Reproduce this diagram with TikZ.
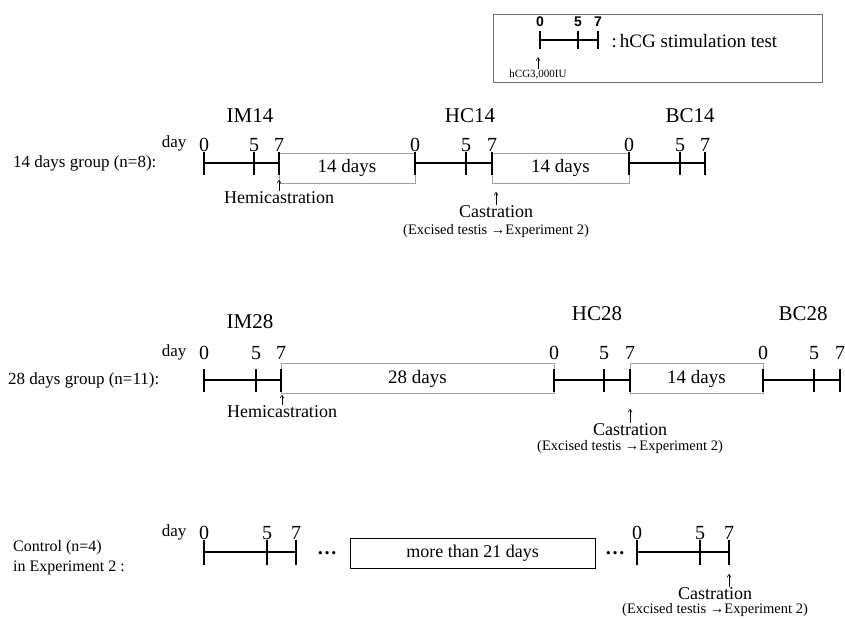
\documentclass[tikz,border=0pt]{standalone}
\usepackage{fontspec}
\setmainfont{Liberation Serif}
\newfontfamily\legendsans{Liberation Sans}
\usetikzlibrary{positioning,arrows.meta}
\definecolor{boxgray}{HTML}{a0a0a0}
\definecolor{framegray}{HTML}{707070}

\tikzset{
  axis/.style={line width=2pt},
  tick/.style={line width=2pt},
  periodbox/.style={draw=boxgray, line width=0.9pt, minimum height=30pt, inner sep=0pt, font=\fontsize{19}{22}\selectfont},
  daynum/.style={font=\fontsize{20}{22}\selectfont, inner sep=1pt},
  stagelabel/.style={font=\fontsize{21}{24}\selectfont},
  grouplabel/.style={font=\fontsize{17}{20}\selectfont, align=left, anchor=west, inner sep=0pt},
  eventlabel/.style={font=\fontsize{18}{20}\selectfont, inner sep=1pt},
  notelabel/.style={font=\fontsize{14.5}{16}\selectfont, inner sep=1pt},
  dotslabel/.style={font=\bfseries\fontsize{20}{20}\selectfont, inner sep=0pt},
  eventarrow/.style={-{Straight Barb[length=3pt,width=4pt]}, line width=0.6pt},
}

\begin{document}
\begin{tikzpicture}[x=1pt, y=-1pt]
  \useasboundingbox (0,0) rectangle (845,618);

  % Legend
  \draw[framegray, line width=0.9pt] (493,14) rectangle (822,82);
  \coordinate (lg0) at (540,40);
  \coordinate (lg7) at (598,40);
  \draw[line width=1.2pt] (lg0) -- (lg7);
  \foreach \x/\n in {540/0,578/5,598/7} {
    \draw[line width=1.4pt] (\x,31) -- (\x,49);
    \node[font=\legendsans\bfseries\fontsize{14}{16}\selectfont, inner sep=0pt] (lgn\n) at (\x,22) {\n};
  }
  \node[notelabel, font=\fontsize{11}{13}\selectfont] (hcg) at (538,75) {hCG3,000IU};
  \draw[eventarrow] (hcg.north) -- ++(0,-12);
  \node[font=\fontsize{19}{22}\selectfont, anchor=west] (legtext) at (608,41) {:\,hCG stimulation test};

  % 14 days group
  \node[stagelabel] (im14) at (250,116) {IM14};
  \node[stagelabel] (hc14) at (470,116) {HC14};
  \node[stagelabel] (bc14) at (690,116) {BC14};
  \node[grouplabel] (grp14) at (13,163) {14 days group (n=8):};
  \node[font=\fontsize{17}{20}\selectfont, anchor=east] (day14) at (190,143) {day};
  \node[periodbox, minimum width=136pt] (p14a) at (347,168) {14 days};
  \node[periodbox, minimum width=137pt] (p14b) at (560.5,168) {14 days};
  \draw[axis] (204,163) -- (p14a.west |- 0,163);
  \draw[axis] (p14a.east |- 0,163) -- (p14b.west |- 0,163);
  \draw[axis] (p14b.east |- 0,163) -- (705,163);
  \foreach \x/\n in {204/0,254/5,279/7,415/0,466/5,492/7,629/0,680/5,705/7} {
    \draw[tick] (\x,152) -- (\x,175);
    \node[daynum] (d14-\x) at (\x,145) {\n};
  }
  \node[eventlabel] (hemi14) at (279,198) {Hemicastration};
  \draw[eventarrow] (hemi14.north) -- ++(0,-11);
  \node[eventlabel] (castr14) at (496,212) {Castration};
  \draw[eventarrow] (castr14.north) -- ++(0,-13);
  \node[notelabel, below=4pt of castr14] (exc14) {(Excised testis →Experiment 2)};

  % 28 days group
  \node[stagelabel] (im28) at (250,322) {IM28};
  \node[stagelabel] (hc28) at (597,314) {HC28};
  \node[stagelabel] (bc28) at (803,314) {BC28};
  \node[grouplabel] (grp28) at (8,380) {28 days group (n=11):};
  \node[font=\fontsize{17}{20}\selectfont, anchor=east] (day28) at (190,352) {day};
  \node[periodbox, minimum width=273pt] (p28a) at (417.5,378.5) {28 days};
  \node[periodbox, minimum width=133pt] (p28b) at (696.5,378.5) {14 days};
  \draw[axis] (204,380) -- (p28a.west |- 0,380);
  \draw[axis] (p28a.east |- 0,380) -- (p28b.west |- 0,380);
  \draw[axis] (p28b.east |- 0,380) -- (840,380);
  \foreach \x/\n in {204/0,256/5,281/7,554/0,604/5,630/7,763/0,814/5,840/7} {
    \draw[tick] (\x,369) -- (\x,392);
    \node[daynum] (d28-\x) at (\x,353) {\n};
  }
  \node[eventlabel] (hemi28) at (282,412) {Hemicastration};
  \draw[eventarrow] (hemi28.north) -- ++(0,-10);
  \node[eventlabel] (castr28) at (630,430) {Castration};
  \draw[eventarrow] (castr28.north) -- ++(0,-14);
  \node[notelabel, below=2pt of castr28] (exc28) {(Excised testis →Experiment 2)};

  % Control group
  \node[grouplabel, font=\fontsize{16}{20}\selectfont] (grpc) at (13,558) {Control (n=4)\\in Experiment 2 :};
  \node[font=\fontsize{17}{20}\selectfont, anchor=east] (dayc) at (190,532) {day};
  \node[draw, line width=0.8pt, minimum width=245pt, minimum height=30pt, inner sep=0pt, font=\fontsize{18}{22}\selectfont] (pc) at (472.5,553) {more than 21 days};
  \node[dotslabel] (dotsa) at (327,553) {…};
  \node[dotslabel] (dotsb) at (615,553) {…};
  \draw[line width=1.4pt] (204,552) -- (296,552);
  \draw[line width=1.4pt] (637,552) -- (729,552);
  \foreach \x/\n in {204/0,267/5,296/7,637/0,700/5,729/7} {
    \draw[line width=1.4pt] (\x,540) -- (\x,565);
    \node[daynum] (dc-\x) at (\x,533) {\n};
  }
  \node[eventlabel] (castrc) at (715,594) {Castration};
  \draw[eventarrow] (castrc.north -| dc-729) -- ++(0,-13);
  \node[notelabel, below=1pt of castrc] (excc) {(Excised testis →Experiment 2)};
\end{tikzpicture}
\end{document}
